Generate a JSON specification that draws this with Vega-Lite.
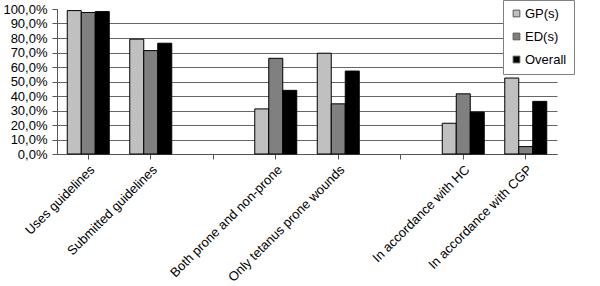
{
  "$schema": "https://vega.github.io/schema/vega-lite/v6.json",
  "autosize": "none",
  "width": 500,
  "height": 145,
  "padding": {"left": 57, "top": 9, "right": 43, "bottom": 132},
  "background": "white",
  "data": {
    "values": [
      {"category": "Uses guidelines", "grp": "GP(s)", "value": 0.989},
      {"category": "Uses guidelines", "grp": "ED(s)", "value": 0.976},
      {"category": "Uses guidelines", "grp": "Overall", "value": 0.982},
      {"category": "Submitted guidelines", "grp": "GP(s)", "value": 0.792},
      {"category": "Submitted guidelines", "grp": "ED(s)", "value": 0.713},
      {"category": "Submitted guidelines", "grp": "Overall", "value": 0.764},
      {"category": "Both prone and non-prone", "grp": "GP(s)", "value": 0.311},
      {"category": "Both prone and non-prone", "grp": "ED(s)", "value": 0.660},
      {"category": "Both prone and non-prone", "grp": "Overall", "value": 0.439},
      {"category": "Only tetanus prone wounds", "grp": "GP(s)", "value": 0.695},
      {"category": "Only tetanus prone wounds", "grp": "ED(s)", "value": 0.346},
      {"category": "Only tetanus prone wounds", "grp": "Overall", "value": 0.572},
      {"category": "In accordance with HC", "grp": "GP(s)", "value": 0.212},
      {"category": "In accordance with HC", "grp": "ED(s)", "value": 0.415},
      {"category": "In accordance with HC", "grp": "Overall", "value": 0.289},
      {"category": "In accordance with CGP", "grp": "GP(s)", "value": 0.524},
      {"category": "In accordance with CGP", "grp": "ED(s)", "value": 0.051},
      {"category": "In accordance with CGP", "grp": "Overall", "value": 0.363}
    ]
  },
  "mark": {"type": "bar", "stroke": "black", "strokeWidth": 1},
  "encoding": {
    "x": {
      "field": "category",
      "type": "nominal",
      "scale": {
        "domain": ["Uses guidelines", "Submitted guidelines", "gap1", "Both prone and non-prone", "Only tetanus prone wounds", "gap2", "In accordance with HC", "In accordance with CGP"],
        "paddingInner": 0.328,
        "paddingOuter": 0.164
      },
      "axis": {
        "title": null,
        "labelAngle": -45,
        "labelExpr": "indexof(datum.value, 'gap') == 0 ? '' : datum.value",
        "tickSize": 5,
        "tickColor": "#555",
        "domainColor": "#555",
        "labelPadding": 4,
        "labelLimit": 300
      }
    },
    "xOffset": {
      "field": "grp",
      "type": "nominal",
      "sort": ["GP(s)", "ED(s)", "Overall"]
    },
    "y": {
      "field": "value",
      "type": "quantitative",
      "scale": {"domain": [0, 1], "nice": false},
      "axis": {
        "title": null,
        "values": [0, 0.1, 0.2, 0.3, 0.4, 0.5, 0.6, 0.7, 0.8, 0.9, 1],
        "format": ".1%",
        "grid": true,
        "gridColor": "#666",
        "gridOpacity": {"condition": {"test": "datum.value > 0.95", "value": 0}, "value": 1},
        "tickSize": 5,
        "tickColor": "#555",
        "domainColor": "#555",
        "labelPadding": 5
      }
    },
    "fill": {
      "field": "grp",
      "type": "nominal",
      "scale": {"domain": ["GP(s)", "ED(s)", "Overall"], "range": ["#c0c0c0", "#808080", "#000000"]},
      "legend": {
        "title": null,
        "orient": "none",
        "legendX": 446,
        "legendY": -9,
        "fillColor": "white",
        "strokeColor": "#808080",
        "padding": 7,
        "symbolType": "square",
        "symbolSize": 45,
        "symbolStrokeColor": "#555",
        "symbolStrokeWidth": 1,
        "rowPadding": 9,
        "labelOffset": 2,
        "labelExpr": "datum.label + '\u00a0\u00a0\u00a0\u00a0\u00a0\u00a0\u00a0'"
      }
    }
  },
  "config": {
    "locale": {"number": {"decimal": ",", "thousands": ".", "grouping": [3], "currency": ["", " €"]}},
    "view": {"stroke": null},
    "font": "Liberation Sans",
    "axis": {"labelFont": "Liberation Sans", "labelFontSize": 13, "labelColor": "black"},
    "legend": {"labelFont": "Liberation Sans", "labelFontSize": 13, "labelColor": "black"}
  }
}
